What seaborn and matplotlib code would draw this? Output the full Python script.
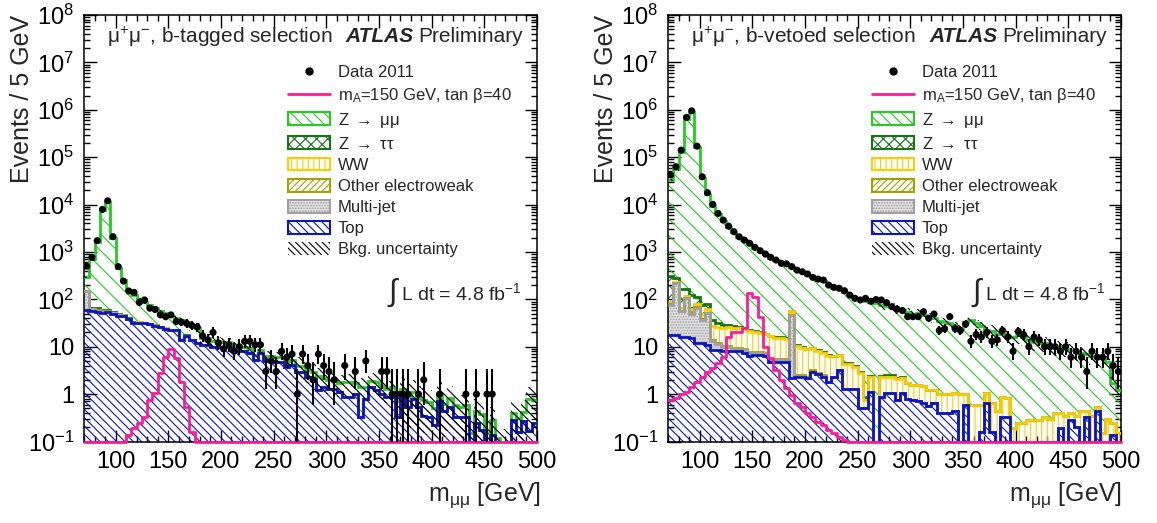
import numpy as np
import matplotlib
matplotlib.use("Agg")
import matplotlib.pyplot as plt
import seaborn as sns
from matplotlib.patches import Patch
from matplotlib.lines import Line2D
from matplotlib.ticker import FixedLocator, FixedFormatter, LogLocator, NullFormatter, MultipleLocator

# ---------------------------------------------------------------------------
# Dimuon invariant mass, 5 GeV bins from 70 to 500 GeV (86 bins)
# ---------------------------------------------------------------------------
edges = np.arange(70, 505, 5)

# ---- b-tagged selection ----
data_btag = [
    500, 770, 1730, 7900, 12000, 2100, 490, 243, 150, 140,      # 70-120
    86, 97, 65, 61, 47, 43, 47, 34, 33, 31,                     # 120-170
    28, 26, 17, 14, 20, 12, 9, 11, 8, 10,                       # 170-220
    13, 13, 11, 11, 3, 5, 3, 8, 6, 7,                           # 220-270
    1, 7, 4, 2, 7, 4, 3, 2, 0, 4,                               # 270-320
    0, 3, 0, 5, 0, 0, 3, 3, 1, 1,                               # 320-370
    1, 1, 0, 1, 2, 0, 0, 1, 0, 0,                               # 370-420
    0, 0, 1, 0, 1, 0, 1, 1, 0, 0,                               # 420-470
    0, 0, 0, 0, 0, 0,                                           # 470-500
]
top_btag = [
    59, 57, 55, 52, 53, 50, 45, 45, 38, 31,
    32, 31, 30, 28, 26, 24, 22, 22, 14, 17,
    14, 12, 11, 11, 10, 10, 10, 10, 8, 8,
    8, 7.5, 5.2, 7.2, 5, 5, 4.8, 4.8, 3.8, 4.1,
    3.0, 2.9, 2.3, 2.1, 1.2, 1.4, 1.3, 1.3, 1.1, 0.88,
    0.88, 1.0, 0.33, 0.8, 1.4, 1.2, 1.0, 0.88, 0.88, 0.33,
    0.88, 0.54, 0.8, 0.54, 0.35, 0.33, 0.22, 0.7, 0.43, 0.54,
    0.33, 0.33, 0.33, 0.0, 0.24, 0.175, 0.0, 0.14, 0.0, 0.0,
    0.0, 0.28, 0.16, 0.27, 0.17, 0.25,
]
zmumu_btag = [
    150, 640, 1545, 7450, 11450, 1950, 405, 205, 112, 89,
    68, 54, 45, 37, 29, 26, 23, 18, 22, 16,
    14, 13, 4, 3.5, 3, 3, 2.5, 2.5, 2.2, 2,
    2, 1.8, 1.6, 1.5, 1.5, 1.4, 1.3, 1.2, 1.2, 1.1,
    1.0, 1.0, 0.9, 0.9, 1.2, 0.8, 0.7, 0.7, 0.6, 0.9,
    0.9, 0.7, 1.1, 0.6, 0.5, 0.6, 0.5, 0.4, 0.5, 0.4,
    0.4, 0.35, 0.3, 0.3, 0.4, 0.35, 0.3, 0.3, 0.2, 0.3,
    0.25, 0.2, 0.25, 0.15, 0.2, 0.2, 0.15, 0.15, 0.12, 0.1,
    0.1, 0.12, 0.15, 0.15, 0.6, 0.5,
]
ztautau_btag = [3, 4, 5, 4, 3, 2, 1.5, 1, 0.8, 0.6, 0.5, 0.4, 0.3, 0.3, 0.2, 0.2, 0.1, 0.1, 0.1, 0.1]
ww_btag = [0.3, 0.3, 0.3, 0.3, 0.3, 0.3, 0.3, 0.3, 0.3, 0.3, 0.25, 0.25, 0.25, 0.2, 0.2, 0.2, 0.2, 0.15, 0.15, 0.1]
otherew_btag = [0.5, 0.6, 0.8, 1.5, 2.0, 0.8, 0.5, 0.4, 0.3, 0.3, 0.2, 0.2, 0.2, 0.2, 0.2, 0.15, 0.15, 0.1, 0.1, 0.1]
multijet_btag = [90, 5, 3, 2, 2, 1, 1, 0.5, 0.5, 0.5]
signal_btag = [
    0, 0, 0, 0, 0, 0, 0.08, 0.1, 0.137, 0.19,
    0.24, 0.33, 0.75, 1.04, 2.75, 6.0, 9.0, 5.7, 1.83, 0.54,
    0.16, 0.09,
]
bkg_unc_btag = [0.08] * 20 + [0.25] * 20 + [0.5] * 20 + [0.8] * 26

# ---- b-vetoed selection ----
data_bveto = [
    42000, 63000, 141000, 690000, 950000, 171000, 38600, 17800, 10100, 6500,
    4700, 3500, 2670, 2090, 1780, 1520, 1250, 1060, 900, 770,
    675, 575, 560, 490, 415, 382, 342, 291, 268, 255,
    200, 179, 171, 152, 123, 105, 97, 105, 91, 99,
    97, 85, 70, 62, 58, 43, 43, 43, 55, 40,
    49, 22, 24, 43, 24, 22, 30, 13, 18, 16,
    20, 13, 14, 22, 16, 8, 21, 18, 10, 16,
    14, 10, 10, 10, 8, 10, 6, 8, 6, 3,
    8, 6, 6, 8, 4, 3,
]
top_bveto = [
    17.7, 17.7, 16, 16, 15, 11.8, 11.8, 11, 8.5, 8.5,
    8, 8, 8, 8, 7.4, 6.3, 6.8, 6.8, 6.5, 4.8,
    4.8, 4.8, 4.8, 2.15, 2.3, 2.3, 2.15, 3.0, 2.6, 2.3,
    1.83, 2.3, 3.2, 1.3, 1.3, 1.3, 0.5, 0.5, 1.13, 0.0,
    0.88, 1.04, 1.04, 0.75, 1.04, 0.8, 0.75, 0.7, 0.65, 0.55,
    0.65, 0.4, 0.4, 0.4, 0.45, 0.0, 0.6, 0.0, 0.0, 0.16,
    0.66, 0.16, 0.0, 0.33, 0.33, 0.0, 0.0, 0.0, 0.0, 0.0,
    0.0, 0.0, 0.0, 0.0, 0.19, 0.0, 0.28, 0.2, 0.0, 0.33,
    0.0, 0.43, 0.0, 0.0, 0.14, 0.0,
]
zmumu_bveto = [
    32500, 54700, 129800, 649800, 899800, 159900, 35950, 16930, 9470, 6170,
    4550, 3400, 2600, 2030, 1720, 1470, 1210, 1030, 870, 745,
    650, 560, 535, 420, 400, 365, 325, 280, 255, 240,
    190, 170, 160, 140, 118, 105, 97, 92, 86, 82,
    73.5, 71.5, 66.5, 60, 57.5, 53, 45.5, 49.5, 44.5, 41.5,
    38.7, 34, 33, 30, 26, 23.5, 33, 35.4, 30.4, 27.4,
    21.5, 20.3, 18.5, 18.1, 16.2, 15.6, 17.4, 15.5, 13.5, 12.5,
    11.5, 11.6, 10.6, 9.6, 9.3, 8.8, 8.1, 7.5, 6.8, 6.6,
    5.9, 5.6, 5.5, 4.5, 1.5, 1.1,
]
ztautau_bveto = [
    230, 60, 100, 50, 60, 35, 25, 15, 10, 6,
    4, 3, 2.5, 2, 1.5, 1.2, 1.0, 0.8, 0.7, 0.6,
    0.5, 0.5, 0.4, 0.4, 0.35, 0.3, 0.3, 0.25, 0.2, 0.2,
    0.2, 0.2, 0.15, 0.15, 0.15, 0.15, 0.1, 0.1, 0.1, 0.0,
    0.15, 0.15, 0.15, 0.1, 0.1,
]
ww_bveto = [
    8, 8, 9, 9, 10, 11, 12, 12, 13, 14,
    14, 15, 15, 15, 15, 14, 13, 12, 11, 11,
    10, 10, 9, 8, 8, 7, 6.5, 6, 5.5, 5,
    4.5, 4, 3.5, 3, 3, 2.5, 2.3, 0.26, 1.2, 0.0,
    1.4, 1.3, 1.3, 1.3, 1.2, 0.9, 0.8, 0.85, 0.8, 0.7,
    0.6, 0.6, 0.6, 0.6, 0.6, 1.0, 0.4, 0.59, 0.59, 0.43,
    0.4, 0.5, 0.45, 0.55, 0.5, 0.19, 0.24, 0.24, 0.28, 0.28,
    0.28, 0.33, 0.3, 0.39, 0.2, 0.35, 0.12, 0.15, 0.43, 0.1,
    0.35, 0.1, 0.15, 0.3, 0.1, 0.15,
]
otherew_bveto = [
    1, 1.5, 2, 3, 3, 1.5, 1, 0.8, 0.7, 0.6,
    0.5, 0.5, 0.5, 0.5, 0.4, 0.4, 0.4, 0.4, 0.3, 0.3,
    0.3, 0.3, 0.3, 0.3, 0.2, 0.2, 0.2, 0.2, 0.2, 0.2,
]
multijet_bveto = [
    60, 200, 40, 90, 35, 55, 25, 40, 5, 3,
    2, 2, 1, 1, 1, 1, 0.5, 0.5, 0.5, 0.5,
    0.5, 0.5, 0.5, 45,
]
signal_bveto = [
    0.75, 0.83, 1.0, 1.12, 1.43, 1.83, 2.33, 2.97, 3.5, 4.5,
    6.2, 16, 20.7, 20.7, 24.5, 134, 113, 43, 10, 5.7,
    3.2, 2.0, 1.32, 0.95, 0.64, 0.54, 0.39, 0.33, 0.26, 0.22,
    0.175, 0.15, 0.126, 0.11, 0.1, 0.09,
]
bkg_unc_bveto = [0.05] * 20 + [0.1] * 20 + [0.2] * 20 + [0.35] * 26

# ---------------------------------------------------------------------------
# Styling
# ---------------------------------------------------------------------------
sns.set_theme(style="ticks")
plt.rcParams["font.family"] = ["Liberation Sans", "DejaVu Sans"]
plt.rcParams["mathtext.fontset"] = "custom"
plt.rcParams["mathtext.rm"] = "Liberation Sans"
plt.rcParams["mathtext.it"] = "Liberation Sans:italic"
plt.rcParams["mathtext.bf"] = "Liberation Sans:bold"
plt.rcParams["hatch.linewidth"] = 0.8
plt.rcParams["axes.edgecolor"] = "black"
plt.rcParams["axes.linewidth"] = 1.1
plt.rcParams["xtick.color"] = "black"
plt.rcParams["ytick.color"] = "black"

C_ZMM = "#22cc22"
C_ZTT = "#147514"
C_WW = "#ffcc00"
C_OEW = "#a8a000"
C_MJ = "#a0a0a0"
C_TOP = "#0a14c8"
C_SIG = "#ff1a9c"


# (label, values, line colour, hatch, face colour) from bottom of the stack to the top
def components(top, mj, oew, ww, ztt, zmm):
    return [
        ("Top", top, C_TOP, "\\\\\\\\", "none"),
        ("Multi-jet", mj, C_MJ, "......", "#e0e0e0"),
        ("Other electroweak", oew, C_OEW, "////", "none"),
        ("WW", ww, C_WW, "|||", "none"),
        ("Z->tautau", ztt, C_ZTT, "xx", "none"),
        ("Z->mumu", zmm, C_ZMM, "\\\\", "none"),
    ]


def full(values):
    out = np.zeros(len(edges) - 1)
    out[:len(values)] = values
    return out


def draw_panel(ax, comps, data, signal, unc, selection):
    nb = len(edges) - 1
    centers = 0.5 * (edges[:-1] + edges[1:])
    cum = np.zeros(nb)
    layers = []
    for label, vals, col, hatch, face in comps:
        lower = cum.copy()
        cum = cum + full(vals)
        layers.append((lower, cum.copy(), col, hatch, face))

    floor = 1e-3
    for lower, upper, col, hatch, face in reversed(layers):
        lo = np.maximum(lower, floor)
        up = np.maximum(upper, floor)
        ax.fill_between(edges, np.append(lo, lo[-1]), np.append(up, up[-1]), step="post",
                        facecolor=face, edgecolor=col, hatch=hatch, linewidth=0, zorder=2)
    for lower, upper, col, hatch, face in reversed(layers):
        up = np.maximum(upper, floor)
        ax.stairs(up, edges, color=col, linewidth=2.0, baseline=None, zorder=3)

    # background uncertainty band around the total
    total = cum
    u = full(unc)
    lo = np.maximum(total * (1 - u), floor)
    hi = np.maximum(total * (1 + u), floor)
    ax.fill_between(edges, np.append(lo, lo[-1]), np.append(hi, hi[-1]), step="post",
                    facecolor="none", edgecolor="black", hatch="\\\\\\\\", linewidth=0, zorder=4)

    # signal hypothesis, drawn along the axis floor where it falls below the range
    sig = np.clip(full(signal), 0.1, None)
    sns.lineplot(x=edges, y=np.append(sig, sig[-1]), drawstyle="steps-post", color=C_SIG,
                 linewidth=2.0, estimator=None, sort=False, ax=ax, zorder=5, clip_on=False)

    # data with Poisson-style error bars
    d = np.asarray(data, dtype=float)
    m = d > 0
    up_err = np.sqrt(d[m] + 0.75) + 1
    lo_err = np.sqrt(d[m])
    ax.vlines(centers[m], np.maximum(d[m] - lo_err, 1e-6), d[m] + up_err, color="black", lw=1.5, zorder=6)
    sns.scatterplot(x=centers[m], y=d[m], color="black", s=26, edgecolor="none", ax=ax, zorder=7)

    ax.set_yscale("log")
    ax.set_xlim(70, 500)
    ax.set_ylim(0.1, 1e8)

    ax.xaxis.set_major_locator(MultipleLocator(50))
    ax.xaxis.set_minor_locator(MultipleLocator(10))
    yt = [0.1, 1, 10, 1e2, 1e3, 1e4, 1e5, 1e6, 1e7, 1e8]
    ax.yaxis.set_major_locator(FixedLocator(yt))
    ax.yaxis.set_major_formatter(FixedFormatter(
        ["$10^{-1}$", "1", "10", "$10^{2}$", "$10^{3}$", "$10^{4}$",
         "$10^{5}$", "$10^{6}$", "$10^{7}$", "$10^{8}$"]))
    ax.yaxis.set_minor_locator(LogLocator(base=10, subs=np.arange(2, 10)))
    ax.yaxis.set_minor_formatter(NullFormatter())
    ax.tick_params(which="major", direction="in", length=9, width=1.0,
                   top=True, right=True, labelsize=17, pad=7)
    ax.tick_params(which="minor", direction="in", length=4.5, width=1.0, top=True, right=True)
    ax.set_xlabel("")
    ax.set_ylabel("")

    ax.text(0.05, 0.949, r"$\mathrm{\mu^{+}\mu^{-}}$, " + selection, transform=ax.transAxes,
            fontsize=15, ha="left", va="center")
    ax.text(0.576, 0.949, "ATLAS", transform=ax.transAxes, fontsize=15,
            fontweight="bold", fontstyle="italic", ha="left", va="center")
    ax.text(0.737, 0.949, "Preliminary", transform=ax.transAxes, fontsize=15,
            ha="left", va="center")
    # integrated luminosity
    ax.text(0.668, 0.348, r"$\int$", transform=ax.transAxes, fontsize=22,
            ha="left", va="center")
    ax.text(0.70, 0.348, r"L dt = 4.8 fb$^{-1}$", transform=ax.transAxes,
            fontsize=14, ha="left", va="center")

    handles = [
        Line2D([], [], ls="none", marker="o", color="black", ms=5),
        Line2D([], [], color=C_SIG, lw=2),
        Patch(facecolor="none", edgecolor=C_ZMM, hatch="\\\\\\", lw=1.5),
        Patch(facecolor="none", edgecolor=C_ZTT, hatch="xxx", lw=1.5),
        Patch(facecolor="none", edgecolor=C_WW, hatch="|||", lw=1.5),
        Patch(facecolor="none", edgecolor=C_OEW, hatch="/////", lw=1.5),
        Patch(facecolor="#e0e0e0", edgecolor=C_MJ, hatch="......", lw=1.5),
        Patch(facecolor="none", edgecolor=C_TOP, hatch="\\\\\\\\", lw=1.5),
        Patch(facecolor="none", edgecolor="black", hatch="\\\\\\\\\\", lw=0),
    ]
    labels = [
        "Data 2011",
        r"m$_{\mathrm{A}}$=150 GeV, tan $\mathrm{\beta}$=40",
        r"Z $\rightarrow$ $\mathrm{\mu\mu}$",
        r"Z $\rightarrow$ $\mathrm{\tau\tau}$",
        "WW",
        "Other electroweak",
        "Multi-jet",
        "Top",
        "Bkg. uncertainty",
    ]
    ax.legend(handles, labels, loc="upper left", bbox_to_anchor=(0.45, 0.884),
              frameon=False, fontsize=12, handlelength=2.5, handleheight=0.8,
              handletextpad=0.5, labelspacing=0.36, borderpad=0, borderaxespad=0)


fig = plt.figure(figsize=(11.57, 5.23), dpi=100)
W, H = 1157.0, 523.0
ax1 = fig.add_axes([84 / W, 81.5 / H, 453 / W, 426.5 / H])
ax2 = fig.add_axes([668 / W, 81.5 / H, 453 / W, 426.5 / H])

draw_panel(ax1, components(top_btag, multijet_btag, otherew_btag, ww_btag, ztautau_btag, zmumu_btag),
           data_btag, signal_btag, bkg_unc_btag, "b-tagged selection")
draw_panel(ax2, components(top_bveto, multijet_bveto, otherew_bveto, ww_bveto, ztautau_bveto, zmumu_bveto),
           data_bveto, signal_bveto, bkg_unc_bveto, "b-vetoed selection")

for x0 in (22, 606):
    fig.text(x0 / W, 1 - 15 / H, "Events / 5 GeV", rotation=90, fontsize=18,
             ha="center", va="top")
for x1 in (541, 1122):
    fig.text(x1 / W, 1 - 495 / H, r"m$_{\mathrm{\mu\mu}}$ [GeV]", fontsize=18,
             ha="right", va="center")

fig.savefig("out.png", dpi=100)
